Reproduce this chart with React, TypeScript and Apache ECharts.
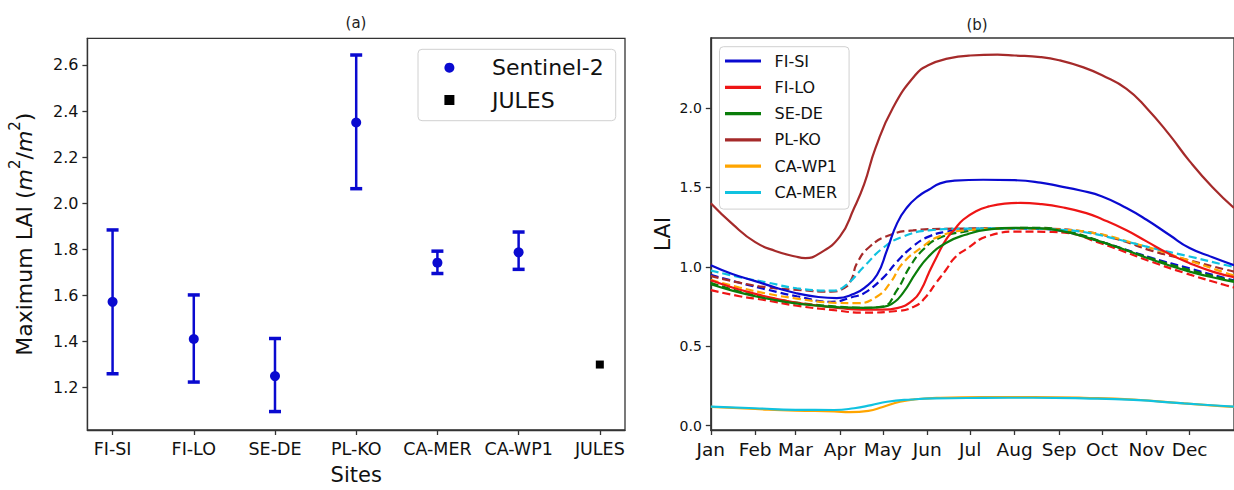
import React, { useEffect, useRef } from "react";
import * as echarts from "echarts";

// ---------- Panel (a) data ----------
const sites = ["FI-SI", "FI-LO", "SE-DE", "PL-KO", "CA-MER", "CA-WP1", "JULES"];
const sentinelMean = [1.572, 1.411, 1.25, 2.35, 1.742, 1.787];
const sentinelLow = [1.26, 1.224, 1.096, 2.063, 1.695, 1.713];
const sentinelHigh = [1.884, 1.602, 1.413, 2.643, 1.792, 1.875];
const julesIndex = 6;
const julesMax = 1.3;
const leftYTicks = [1.2, 1.4, 1.6, 1.8, 2.0, 2.2, 2.4, 2.6];

// ---------- Panel (b) data (day of year, LAI) ----------
const monthNames = ["Jan", "Feb", "Mar", "Apr", "May", "Jun", "Jul", "Aug", "Sep", "Oct", "Nov", "Dec"];
const monthStarts = [0, 31, 59, 90, 120, 151, 181, 212, 243, 273, 304, 334];
const rightYTicks = [0, 0.5, 1.0, 1.5, 2.0];
const siteNames = ["FI-SI", "FI-LO", "SE-DE", "PL-KO", "CA-WP1", "CA-MER"];
const siteColors = ["#0a0ad0", "#ee1515", "#0a7d0a", "#a52a2a", "#ffa500", "#10c2e0"];

const fiSiSolid = [
  [0, 1.01], [15, 0.955], [31, 0.91], [45, 0.87], [59, 0.835], [75, 0.81], [88, 0.803], [100, 0.83],
  [107, 0.866], [116, 0.95], [123, 1.107], [130, 1.275], [137, 1.375], [145, 1.445], [152, 1.485],
  [160, 1.525], [170, 1.542], [190, 1.548], [212, 1.545], [230, 1.53], [243, 1.508], [258, 1.48],
  [273, 1.443], [290, 1.37], [304, 1.296], [320, 1.2], [334, 1.118], [350, 1.06], [365, 1.01],
];
const fiLoSolid = [
  [0, 0.915], [15, 0.87], [31, 0.83], [45, 0.8], [59, 0.775], [75, 0.755], [90, 0.74], [105, 0.73],
  [120, 0.73], [130, 0.74], [141, 0.79], [147, 0.86], [152, 0.96], [158, 1.07], [164, 1.17],
  [170, 1.235], [176, 1.296], [185, 1.35], [194, 1.38], [205, 1.398], [216, 1.402], [230, 1.395],
  [245, 1.375], [262, 1.338], [273, 1.3], [290, 1.23], [304, 1.16], [320, 1.08], [334, 1.023],
  [350, 0.97], [365, 0.935],
];
const seDeSolid = [
  [0, 0.89], [15, 0.85], [31, 0.815], [45, 0.79], [59, 0.77], [75, 0.755], [90, 0.745], [107, 0.742],
  [120, 0.748], [126, 0.765], [134, 0.834], [143, 0.96], [152, 1.065], [164, 1.15], [177, 1.2],
  [194, 1.236], [212, 1.245], [228, 1.243], [245, 1.225], [262, 1.185], [285, 1.12], [308, 1.044],
  [334, 0.97], [358, 0.918], [365, 0.905],
];
const plKoSolid = [
  [0, 1.4], [15, 1.27], [31, 1.155], [45, 1.1], [59, 1.065], [66, 1.055], [75, 1.08], [90, 1.19],
  [100, 1.37], [107, 1.52], [115, 1.75], [127, 2.0], [143, 2.21], [152, 2.27], [165, 2.31],
  [181, 2.33], [200, 2.335], [212, 2.33], [230, 2.32], [243, 2.3], [260, 2.255], [273, 2.205],
  [290, 2.12], [304, 2.0], [320, 1.83], [334, 1.665], [350, 1.5], [365, 1.37],
];
const caWp1Solid = [
  [0, 0.118], [31, 0.105], [59, 0.095], [86, 0.09], [97, 0.085], [110, 0.093], [120, 0.118],
  [132, 0.151], [145, 0.168], [160, 0.176], [190, 0.18], [225, 0.18], [260, 0.176], [295, 0.165],
  [330, 0.14], [358, 0.122], [365, 0.118],
];
const caMerSolid = [
  [0, 0.12], [31, 0.11], [59, 0.1], [86, 0.099], [100, 0.11], [112, 0.13], [123, 0.151],
  [140, 0.165], [156, 0.172], [190, 0.175], [225, 0.176], [260, 0.172], [295, 0.162], [330, 0.14],
  [358, 0.124], [365, 0.12],
];

const fiSiDashed = [
  [0, 0.95], [20, 0.9], [40, 0.855], [60, 0.815], [84, 0.78], [100, 0.813], [107, 0.834],
  [120, 0.929], [130, 1.033], [141, 1.128], [152, 1.19], [165, 1.222], [178, 1.235], [200, 1.242],
  [225, 1.24], [250, 1.215], [275, 1.15], [308, 1.055], [334, 0.99], [358, 0.93], [365, 0.915],
];
const fiLoDashed = [
  [0, 0.853], [20, 0.815], [38, 0.79], [60, 0.755], [84, 0.729], [107, 0.712], [130, 0.722],
  [142, 0.75], [149, 0.8], [157, 0.897], [164, 0.98], [170, 1.055], [178, 1.11], [194, 1.195],
  [216, 1.222], [235, 1.22], [251, 1.21], [268, 1.16], [285, 1.107], [308, 1.03], [331, 0.96],
  [358, 0.887], [365, 0.87],
];
const seDeDashed = [
  [0, 0.9], [20, 0.845], [40, 0.805], [60, 0.775], [84, 0.752], [107, 0.742], [120, 0.75],
  [130, 0.855], [139, 1.002], [148, 1.107], [159, 1.18], [178, 1.222], [200, 1.24], [228, 1.245],
  [250, 1.22], [275, 1.15], [308, 1.05], [334, 0.98], [358, 0.925], [365, 0.91],
];
const plKoDashed = [
  [0, 0.943], [20, 0.9], [40, 0.87], [60, 0.855], [84, 0.844], [93, 0.866], [98, 0.918],
  [102, 1.023], [111, 1.128], [125, 1.2], [141, 1.229], [164, 1.239], [200, 1.242], [230, 1.24],
  [262, 1.22], [285, 1.17], [308, 1.1], [334, 1.04], [358, 0.985], [365, 0.97],
];
const caWp1Dashed = [
  [0, 0.918], [20, 0.87], [40, 0.83], [60, 0.8], [84, 0.775], [102, 0.771], [116, 0.813],
  [125, 0.897], [134, 1.023], [148, 1.128], [159, 1.19], [178, 1.23], [212, 1.242], [240, 1.235],
  [262, 1.22], [299, 1.139], [330, 1.05], [358, 0.965], [365, 0.945],
];
const caMerDashed = [
  [0, 0.977], [20, 0.935], [40, 0.9], [60, 0.865], [84, 0.85], [93, 0.876], [107, 1.002],
  [120, 1.118], [134, 1.19], [152, 1.229], [178, 1.24], [212, 1.242], [240, 1.235], [262, 1.216],
  [285, 1.17], [308, 1.118], [334, 1.065], [358, 1.013], [365, 1.0],
];

const solidSeries = [fiSiSolid, fiLoSolid, seDeSolid, plKoSolid, caWp1Solid, caMerSolid];
const dashedSeries = [fiSiDashed, fiLoDashed, seDeDashed, plKoDashed, caWp1Dashed, caMerDashed];

const FONT = "DejaVu Sans";
const BLUE = "#0a0ad0";
const AXIS = "#333";

export default function App() {
  const ref = useRef<HTMLDivElement>(null);

  useEffect(() => {
    if (!ref.current) return;
    const chart = echarts.init(ref.current, null, { renderer: "svg" });

    const errData = sentinelLow.map((lo, i) => [i, lo, sentinelHigh[i]]);

    const series: any[] = [
      {
        name: "errbars",
        type: "custom",
        xAxisIndex: 0,
        yAxisIndex: 0,
        data: errData,
        encode: { x: 0, y: [1, 2] },
        z: 2,
        renderItem: (params: any, api: any) => {
          const x = api.value(0);
          const pLo = api.coord([x, api.value(1)]);
          const pHi = api.coord([x, api.value(2)]);
          const cw = 6;
          const capStyle = { stroke: BLUE, lineWidth: 3.5 };
          return {
            type: "group",
            children: [
              { type: "line", shape: { x1: pLo[0], y1: pLo[1], x2: pHi[0], y2: pHi[1] }, style: { stroke: BLUE, lineWidth: 2.5 } },
              { type: "line", shape: { x1: pLo[0] - cw, y1: pLo[1], x2: pLo[0] + cw, y2: pLo[1] }, style: capStyle },
              { type: "line", shape: { x1: pHi[0] - cw, y1: pHi[1], x2: pHi[0] + cw, y2: pHi[1] }, style: capStyle },
            ],
          };
        },
      },
      {
        name: "Sentinel-2",
        type: "scatter",
        xAxisIndex: 0,
        yAxisIndex: 0,
        symbol: "circle",
        symbolSize: 10,
        itemStyle: { color: BLUE, opacity: 1 },
        z: 3,
        data: sentinelMean.map((v, i) => [i, v]),
      },
      {
        name: "JULES",
        type: "scatter",
        xAxisIndex: 0,
        yAxisIndex: 0,
        symbol: "rect",
        symbolSize: 8,
        itemStyle: { color: "#000", opacity: 1 },
        z: 3,
        data: [[julesIndex, julesMax]],
      },
    ];

    dashedSeries.forEach((d, i) => {
      series.push({
        name: siteNames[i] + " (dashed)",
        type: "line",
        xAxisIndex: 1,
        yAxisIndex: 1,
        data: d,
        symbol: "none",
        smooth: 0.5,
        lineStyle: { color: siteColors[i], width: 2.2, type: [8, 4] },
        itemStyle: { color: siteColors[i] },
        z: 2,
      });
    });
    solidSeries.forEach((d, i) => {
      series.push({
        name: siteNames[i],
        type: "line",
        xAxisIndex: 1,
        yAxisIndex: 1,
        data: d,
        symbol: "none",
        smooth: 0.5,
        lineStyle: { color: siteColors[i], width: 2.2 },
        itemStyle: { color: siteColors[i] },
        z: 3,
      });
    });

    const option: any = {
      animation: false,
      backgroundColor: "#fff",
      textStyle: { fontFamily: FONT },
      graphic: [
        { type: "text", x: 356, y: 23, style: { text: "(a)", align: "center", verticalAlign: "middle", fontSize: 15, fontFamily: FONT, fill: "#222" } },
        { type: "text", x: 977, y: 25, style: { text: "(b)", align: "center", verticalAlign: "middle", fontSize: 15, fontFamily: FONT, fill: "#222" } },
      ],
      grid: [
        { left: 87.4, right: 609, top: 38.3, bottom: 54.3, show: true, borderColor: AXIS, borderWidth: 1.3, backgroundColor: "#fff" },
        { left: 710.8, right: -9.6, top: 38, bottom: 60, show: true, borderColor: AXIS, borderWidth: 1.3, backgroundColor: "#fff" },
      ],
      legend: [
        {
          data: ["Sentinel-2", "JULES"],
          orient: "vertical",
          left: 418,
          top: 49.3,
          padding: [5.4, 12, 7.7, 26.4],
          itemWidth: 10,
          itemHeight: 10,
          itemGap: 6.3,
          formatter: (name: string) => "{t|" + name + "}",
          textStyle: {
            fontSize: 22,
            lineHeight: 26,
            fontFamily: FONT,
            color: "#111",
            rich: { t: { fontSize: 22, lineHeight: 26, fontFamily: FONT, color: "#111", padding: [0, 0, 0, 32.6] } },
          },
          borderColor: "#d0d0d0",
          borderWidth: 1,
          borderRadius: 4,
          backgroundColor: "rgba(255,255,255,0.85)",
        },
        {
          data: siteNames,
          orient: "vertical",
          left: 719.5,
          top: 46.7,
          padding: [4.3, 12, 6.6, 5.5],
          icon: "rect",
          itemWidth: 36,
          itemHeight: 3.2,
          itemGap: 6.3,
          symbolKeepAspect: false,
          formatter: (name: string) => "{t|" + name + "}",
          textStyle: {
            fontSize: 16,
            lineHeight: 20,
            fontFamily: FONT,
            color: "#111",
            rich: { t: { fontSize: 16, lineHeight: 20, fontFamily: FONT, color: "#111", padding: [0, 0, 0, 8.5] } },
          },
          borderColor: "#d0d0d0",
          borderWidth: 1,
          borderRadius: 4,
          backgroundColor: "rgba(255,255,255,0.85)",
        },
      ],
      xAxis: [
        {
          gridIndex: 0,
          type: "value",
          min: -0.31,
          max: 6.31,
          name: "Sites",
          nameLocation: "middle",
          nameGap: 34,
          nameTextStyle: { fontSize: 21, fontFamily: FONT, color: "#111" },
          axisLine: { show: true, onZero: false, lineStyle: { color: AXIS, width: 1.3 } },
          splitLine: { show: false },
          axisTick: { show: true, length: 5, lineStyle: { color: AXIS, width: 1.3 }, customValues: sites.map((_, i) => i) },
          axisLabel: {
            customValues: sites.map((_, i) => i),
            formatter: (v: number) => sites[Math.round(v)] ?? "",
            fontSize: 17.5,
            fontFamily: FONT,
            color: "#111",
            margin: 10,
          },
        },
        {
          gridIndex: 1,
          type: "value",
          min: 0,
          max: 365,
          axisLine: { show: true, onZero: false, lineStyle: { color: AXIS, width: 1.3 } },
          splitLine: { show: false },
          axisTick: { show: true, length: 5, lineStyle: { color: AXIS, width: 1.3 }, customValues: monthStarts },
          axisLabel: {
            customValues: monthStarts,
            formatter: (v: number) => monthNames[monthStarts.indexOf(Math.round(v))] ?? "",
            fontSize: 18.5,
            fontFamily: FONT,
            color: "#111",
            margin: 10,
          },
        },
      ],
      yAxis: [
        {
          gridIndex: 0,
          type: "value",
          min: 1.016,
          max: 2.7155,
          name: "{n|Maximum LAI (}{i|m}{s|2}{n|/}{i|m}{s|2}{n|)}",
          nameLocation: "middle",
          nameRotate: 90,
          nameGap: 52,
          nameTextStyle: {
            fontFamily: FONT,
            color: "#111",
            rich: {
              n: { fontSize: 22, fontFamily: FONT, color: "#111", lineHeight: 28, verticalAlign: "bottom" },
              i: { fontSize: 22, fontFamily: FONT, fontStyle: "italic", color: "#111", lineHeight: 28, verticalAlign: "bottom" },
              s: { fontSize: 15, fontFamily: FONT, color: "#111", lineHeight: 28, verticalAlign: "top" },
            },
          },
          axisLine: { show: true, onZero: false, lineStyle: { color: AXIS, width: 1.3 } },
          splitLine: { show: false },
          axisTick: { show: true, length: 5, lineStyle: { color: AXIS, width: 1.3 }, customValues: leftYTicks },
          axisLabel: {
            customValues: leftYTicks,
            formatter: (v: number) => v.toFixed(1),
            fontSize: 16,
            fontFamily: FONT,
            color: "#111",
            margin: 9,
          },
        },
        {
          gridIndex: 1,
          type: "value",
          min: -0.027,
          max: 2.44,
          name: "LAI",
          nameLocation: "middle",
          nameRotate: 90,
          nameGap: 37,
          nameTextStyle: { fontSize: 22, fontFamily: FONT, color: "#111" },
          axisLine: { show: true, onZero: false, lineStyle: { color: AXIS, width: 1.3 } },
          splitLine: { show: false },
          axisTick: { show: true, length: 5, lineStyle: { color: AXIS, width: 1.3 }, customValues: rightYTicks },
          axisLabel: {
            customValues: rightYTicks,
            formatter: (v: number) => v.toFixed(1),
            fontSize: 14,
            fontFamily: FONT,
            color: "#111",
            margin: 9,
          },
        },
      ],
      series,
    };

    chart.setOption(option);
    return () => chart.dispose();
  }, []);

  return (
    <div
      ref={ref}
      style={{ position: "fixed", left: 0, top: 0, width: 1234, height: 490, background: "#fff" }}
    />
  );
}
